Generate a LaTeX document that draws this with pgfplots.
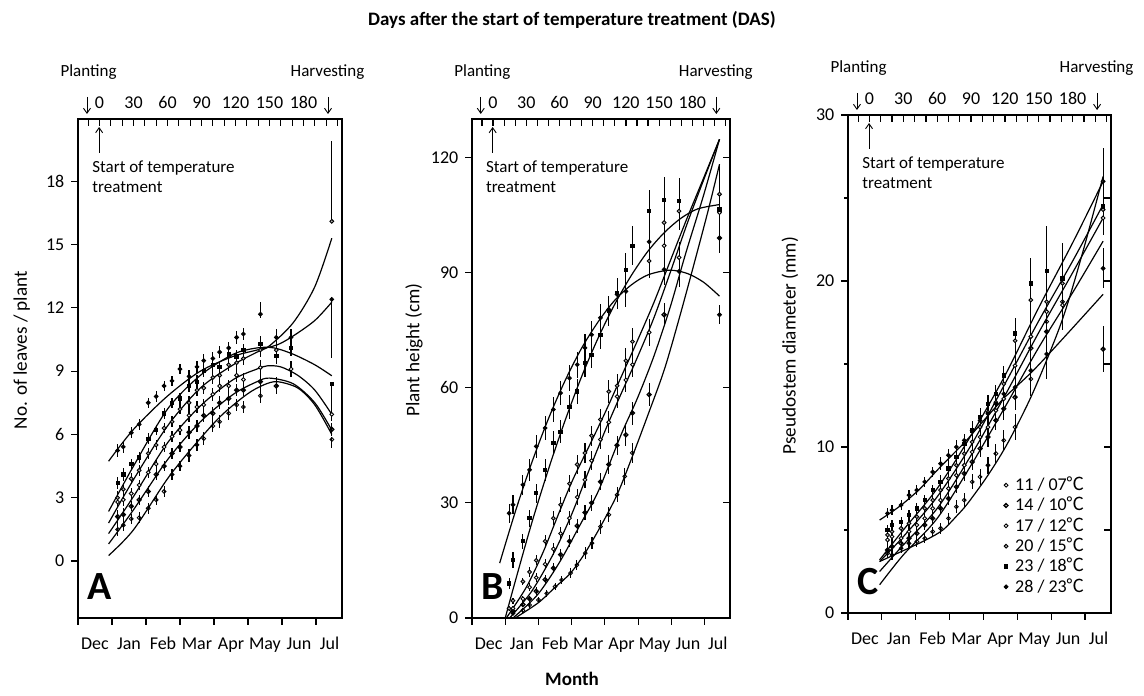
\documentclass[border=0pt]{standalone}
\usepackage{fontspec}
\setmainfont{Carlito}
\newfontfamily\cjk{Noto Sans CJK KR}
\usepackage{pgfplots}
\pgfplotsset{compat=1.18}
\usetikzlibrary{arrows.meta}

\newcommand\tfont{\fontsize{9}{10}\selectfont}
\newcommand\afont{\fontsize{8.5}{10}\selectfont}
\newcommand\lfont{\fontsize{9.6}{11}\selectfont}

\pgfplotsset{
  panel/.style={scale only axis, xmin=-19, xmax=214, clip=false,
    axis line style={line width=0.6pt},
    tick style={black, line width=0.6pt},
    tick align=outside, xtick pos=bottom, ytick pos=left,
    major tick length=3.3pt, minor tick length=1.8pt,
    xtick={-19,11,41,71,101,131,161,191}, xticklabels={},
    extra x ticks={-4,26,56,86,116,146,176,203},
    extra x tick labels={Dec,Jan,Feb,Mar,Apr,May,Jun,Jul},
    extra x tick style={major tick length=0pt,
      tick label style={yshift=-4.5pt, text height=1.6ex, text depth=0.3ex}},
    tick label style={font=\tfont},
    /pgf/number format/assume math mode=true},
  frame/.style={scale only axis, xmin=-19, xmax=214,
    axis x line*=top, axis y line*=right, tick align=inside,
    axis line style={line width=0.6pt},
    tick style={black, line width=0.6pt},
    xtick={0,30,...,180}, minor xtick={-10,0,...,210},
    major tick length=3.3pt, minor tick length=3.3pt,
    yticklabels={}, tick label style={font=\tfont},
    xticklabel style={yshift=1.5pt},
    /pgf/number format/assume math mode=true},
  cv/.style={black, line width=0.6pt, smooth, no marks, forget plot},
  dp/.style={black, only marks, mark size=0.95pt, line width=0.45pt,
    error bars/y dir=both, error bars/y explicit, error bars/error mark=none,
    error bars/error bar style={line width=0.55pt}},
  s1/.style={mark=o},
  s2/.style={mark=o, mark options={line width=0.7pt}},
  s3/.style={mark=*, mark options={fill=white}},
  s4/.style={mark=*, mark options={fill=gray!60}},
  s5/.style={mark=square*, mark size=0.85pt},
  s6/.style={mark=*},
  table/sym/.style={row sep=\\, y error index=2},
  table/asym/.style={row sep=\\, y error plus index=2, y error minus index=3},
}

% annotations common to each panel
\newcommand\panelnotes[1]{%
  \node[font=\afont] at ([yshift=23.5pt]axis description cs:0.04,1) {Planting};
  \node[font=\afont] at ([yshift=23.5pt]axis description cs:0.945,1) {Harvesting};
  \draw[-{Straight Barb[length=2.5pt,width=3.5pt]}, line width=0.45pt]
    ([yshift=11pt]axis description cs:0.034,1) -- ([yshift=2.5pt]axis description cs:0.034,1);
  \draw[-{Straight Barb[length=2.5pt,width=3.5pt]}, line width=0.45pt]
    ([yshift=11pt]axis description cs:0.947,1) -- ([yshift=2.5pt]axis description cs:0.947,1);
  \draw[-{Straight Barb[length=2.5pt,width=3.5pt]}, line width=0.45pt]
    ([yshift=-17pt]axis description cs:0.08,1) -- ([yshift=-4pt]axis description cs:0.08,1);
  \node[anchor=north west, align=left, font=\afont, inner sep=0pt]
    at ([yshift=-20.5pt]axis description cs:0.053,1) {Start of temperature\\treatment};
  \node[anchor=south west, inner sep=0pt, font=\fontsize{20}{20}\selectfont\bfseries]
    at ([yshift=9pt]axis description cs:0.035,0) {#1};
}

\begin{document}
\begin{tikzpicture}
\useasboundingbox (0,0) rectangle (572pt,347.5pt);

\node[font=\fontsize{9.5}{11}\selectfont\bfseries] at (286pt,337.5pt)
  {Days after the start of temperature treatment (DAS)};
\node[font=\fontsize{9.5}{11}\selectfont\bfseries] at (286pt,8pt) {Month};

% ---------------- A: leaves ----------------
\begin{axis}[panel, at={(39pt,38.5pt)}, anchor=south west,
  width=132pt, height=249.5pt, ymin=-2.7, ymax=20.95, ytick={0,3,...,18}]
\addplot[cv] coordinates {(8,4.73) (30,6.24) (60,7.82) (89,9.0) (118,9.7) (139,10.0) (157,10.25) (171,10.67) (190,11.4) (205,12.27)};
\addplot[cv] coordinates {(8,2.35) (30,4.5) (60,7.2) (89,8.8) (118,9.8) (139,10.1) (154,10.1) (171,9.8) (190,9.3) (205,8.78)};
\addplot[cv] coordinates {(8,1.8) (30,3.86) (60,6.4) (89,8.2) (118,9.3) (139,9.9) (150,10.2) (171,11.3) (190,13.0) (205,15.3)};
\addplot[cv] coordinates {(8,1.3) (30,3.06) (60,5.6) (89,7.35) (118,8.6) (139,9.1) (148,9.25) (160,9.2) (175,8.8) (190,8.1) (205,6.95)};
\addplot[cv] coordinates {(8,0.81) (30,2.43) (60,4.8) (89,6.6) (118,7.9) (139,8.5) (150,8.67) (171,8.4) (190,7.5) (205,6.2)};
\addplot[cv] coordinates {(8,0.26) (30,1.48) (60,3.9) (83,5.44) (107,6.87) (130,7.9) (145,8.35) (157,8.5) (175,8.2) (190,7.4) (205,6.0)};

\addplot[dp,s1] table[asym] {16 1.5 .3 .3\\ 21 1.7 .3 .3\\ 28 2.0 .25 .25\\ 35 2.05 .25 .25\\ 43 2.5 .25 .25\\ 50 2.9 .25 .25\\ 57 3.3 .25 .25\\ 64 4.1 .25 .25\\ 71 4.5 .25 .25\\ 79 5.0 .3 .3\\ 86 5.5 .3 .3\\ 92 5.8 .3 .3\\ 100 6.4 .3 .3\\ 106 6.6 .3 .3\\ 114 7.0 .3 .3\\ 121 7.4 .3 .3\\ 127 7.3 .3 .3\\ 142 7.83 .35 .35\\ 205 5.76 .1 .4\\};
\addplot[dp,s2] table[asym] {16 2.1 .3 .3\\ 21 2.2 .3 .3\\ 28 2.6 .25 .25\\ 35 2.9 .25 .25\\ 43 3.3 .25 .25\\ 50 4.1 .25 .25\\ 57 4.5 .25 .25\\ 64 5.1 .25 .25\\ 71 5.4 .25 .25\\ 79 6.1 .3 .3\\ 86 6.4 .3 .3\\ 92 6.9 .3 .3\\ 100 7.0 .3 .3\\ 106 7.5 .3 .3\\ 114 7.7 .3 .3\\ 121 8.1 .3 .3\\ 127 8.1 .3 .3\\ 142 8.5 .35 .35\\ 156 8.3 .4 .4\\ 205 6.24 .3 .3\\};
\addplot[dp,s3] table[asym] {16 2.8 .3 .3\\ 21 2.9 .3 .3\\ 28 3.2 .25 .25\\ 35 3.6 .25 .25\\ 43 4.2 .25 .25\\ 50 4.6 .25 .25\\ 57 5.4 .25 .25\\ 64 5.9 .25 .25\\ 71 6.2 .25 .25\\ 79 6.9 .3 .3\\ 86 7.3 .3 .3\\ 92 7.4 .3 .3\\ 100 7.9 .3 .3\\ 106 8.3 .3 .3\\ 114 8.3 .3 .3\\ 121 8.8 .3 .3\\ 127 8.6 .3 .3\\ 142 9.17 .35 .35\\ 169 9.1 .4 .4\\ 205 6.95 .3 .3\\};
\addplot[dp,s4] table[asym] {16 3.0 .3 .3\\ 21 3.4 .3 .3\\ 28 3.9 .25 .25\\ 35 4.3 .25 .25\\ 43 5.1 .25 .25\\ 50 5.5 .25 .25\\ 57 6.3 .25 .25\\ 64 6.6 .25 .25\\ 71 7.2 .25 .25\\ 79 7.5 .3 .3\\ 86 8.1 .3 .3\\ 92 8.2 .3 .3\\ 100 8.7 .3 .3\\ 106 8.8 .3 .3\\ 114 9.3 .3 .3\\ 121 9.4 .3 .3\\ 127 9.6 .3 .3\\ 142 10.0 .35 .35\\ 156 10.0 .4 .4\\ 205 16.1 3.8 .1\\};
\addplot[dp,s5] table[asym] {16 3.7 .3 .3\\ 21 4.1 .3 .3\\ 28 4.6 .25 .25\\ 35 4.9 .25 .25\\ 43 5.8 .25 .25\\ 50 6.2 .25 .25\\ 57 7.0 .25 .25\\ 64 7.5 .25 .25\\ 71 7.7 .25 .25\\ 79 8.3 .3 .3\\ 86 8.5 .3 .3\\ 92 9.0 .3 .3\\ 100 9.3 .3 .3\\ 106 9.2 .3 .3\\ 114 9.8 .3 .3\\ 121 9.7 .3 .3\\ 127 10.0 .3 .3\\ 142 10.3 .35 .35\\ 156 9.73 .4 .4\\ 169 10.1 .4 .4\\ 205 8.38 .1 1.3\\};
\addplot[dp,s6] table[asym] {16 5.24 .3 .3\\ 21 5.41 .3 .3\\ 28 6.08 .25 .25\\ 35 6.48 .25 .25\\ 43 7.5 .25 .25\\ 50 7.8 .25 .25\\ 57 8.3 .25 .25\\ 64 8.54 .25 .25\\ 71 9.1 .25 .25\\ 79 8.75 .3 .3\\ 86 9.2 .3 .3\\ 92 9.5 .3 .3\\ 100 9.6 .3 .3\\ 106 9.9 .3 .3\\ 114 10.1 .3 .3\\ 121 10.6 .3 .3\\ 127 10.76 .3 .3\\ 142 11.7 .6 .2\\ 156 10.6 .4 .4\\ 169 10.6 .4 .4\\ 205 12.4 .1 2.8\\};
\panelnotes{A}
\node[rotate=90, font=\lfont] at (axis description cs:-0.213,0.537) {No. of leaves / plant};
\end{axis}
\begin{axis}[frame, at={(39pt,38.5pt)}, anchor=south west,
  width=132pt, height=249.5pt, ymin=-2.7, ymax=20.95, ytick=\empty]
\end{axis}

% ---------------- B: height ----------------
\begin{axis}[panel, at={(236pt,38.5pt)}, anchor=south west,
  width=129pt, height=249.5pt, ymin=0, ymax=130, ytick={0,30,...,120}]
\addplot[cv] coordinates {(6,14.3) (20,27.6) (35,40.5) (50,51.9) (65,61.8) (80,70.3) (95,77.2) (110,82.8) (125,86.8) (140,89.4) (159,90.6) (175,89.8) (190,87.5) (204.5,83.85)};
\addplot[cv] coordinates {(11,0) (20,9.5) (35,24.8) (50,38.7) (65,51.4) (80,62.9) (95,73.0) (110,81.8) (125,89.3) (140,95.6) (155,100.5) (170,104.2) (185,106.6) (204.5,107.7)};
\addplot[cv] coordinates {(12,0) (30,8) (45,17) (59,27) (72,36) (88,45.5) (102,54) (116,63) (130,72) (145,82) (160,93) (175,104) (190,114.5) (204.5,124.7)};
\addplot[cv] coordinates {(15,0) (35,7) (55,17) (71,27) (86,38) (101.5,49) (115,58) (129,67) (145,78) (160,90) (175,102.5) (190,114) (204.5,124.7)};
\addplot[cv] coordinates {(18,0) (40,6) (60,14.5) (80,25) (95,33) (116,48) (130,57) (145,68) (160,81) (174,95) (190,110) (204.5,124.7)};
\addplot[cv] coordinates {(20,0) (41,4) (56,8) (70,11.7) (83,16.9) (97,23.8) (112,32.1) (125.7,42) (140,53) (155,65) (170,80) (185,96) (195,107) (204.5,118.2)};

\addplot[dp,s1] table[sym] {18 1.2 .5\\ 27 2.0 .6\\ 33 3.4 .7\\ 41 4.7 .8\\ 48.5 6.4 .9\\ 56 8.2 1\\ 62 9.9 1\\ 70 11.7 1.2\\ 75.7 13.8 1.3\\ 83.3 16.9 1.5\\ 89.4 19.5 1.5\\ 97 23.8 1.8\\ 104.5 26.9 2\\ 112 32.1 2\\ 119 36.9 2.2\\ 125.7 43 2.5\\};
\addplot[dp,s2] table[sym] {18 1.8 .5\\ 27 3.5 .7\\ 33 5 .8\\ 39 7 1\\ 47 10 1.2\\ 54.5 13 1.3\\ 61 16.5 1.5\\ 69 20 1.6\\ 76 24 1.8\\ 83 27.5 2\\ 89 30 2\\ 97 35.5 2.2\\ 104.5 40 2.5\\ 112 45 2.5\\ 120 47.7 2.8\\ 126 53.4 3\\ 141 58.2 3\\ 154.5 79 3\\ 204.5 99 4\\};
\addplot[dp,s3] table[sym] {18 2.5 .6\\ 27 5 .8\\ 33 8 1\\ 39 10.5 1.2\\ 47 14 1.3\\ 54.5 18 1.5\\ 61 22 1.6\\ 69 26 1.8\\ 76 31.5 2\\ 83 36 2.2\\ 89 41 2.4\\ 97 46.5 2.6\\ 104.5 51 2.8\\ 112 57.7 3\\ 120 62 3\\ 126 66 3.2\\ 141 74.4 3.5\\ 154.5 97 4\\ 168 93.9 4\\ 204.5 105.6 6\\};
\addplot[dp,s4] table[sym] {14.5 2.5 .6\\ 18 4.5 .8\\ 27 9.5 1\\ 33 12 1.2\\ 39 15 1.3\\ 47 20 1.5\\ 54.5 26 1.8\\ 61 29.5 2\\ 69 35 2.2\\ 76 40 2.4\\ 83 43 2.5\\ 89 47.5 2.6\\ 97 51.7 2.8\\ 104.5 59 3\\ 112 60.5 3\\ 120 67 3.3\\ 126 72 3.5\\ 141 93 4.5\\ 154.5 103 5\\ 168 106 5\\ 204.5 110.4 8\\};
\addplot[dp,s5] table[sym] {14.5 9 1.5\\ 18 15.1 2\\ 27 20 2\\ 33 26 2.2\\ 39 32.5 2.5\\ 47 38.6 2.8\\ 54.5 45.6 3\\ 61 48.5 3\\ 69 55 3.2\\ 76 59 3.3\\ 83 66.4 3.5\\ 89 68.6 3.5\\ 97 73.8 3.8\\ 104.5 80 4\\ 112 84.7 4\\ 120 90.7 4.5\\ 126 97 5\\ 141 106 5.5\\ 154.5 108.9 6\\ 168 108.6 6\\ 204.5 106.4 9\\};
\addplot[dp,s6] table[sym] {14.5 27.3 2.5\\ 18 29.5 2.5\\ 27 34.7 2.6\\ 33 38.6 2.8\\ 39 44.7 3\\ 47 49.5 3\\ 54.5 54.3 3.2\\ 61 58.6 3.2\\ 69 62.5 3.3\\ 76 66 3.4\\ 83 70.4 3.5\\ 89 73.8 3.5\\ 97 78.2 3.6\\ 104.5 80.4 3.6\\ 112 84.3 3.8\\ 120 85.1 4\\ 141 98 5\\ 154.5 90.8 4\\ 168 90.3 4\\ 204.5 79 2.5\\};
\panelnotes{B}
\node[rotate=90, font=\lfont] at (axis description cs:-0.225,0.537) {Plant height (cm)};
\end{axis}
\begin{axis}[frame, at={(236pt,38.5pt)}, anchor=south west,
  width=129pt, height=249.5pt, ymin=0, ymax=130, ytick={30,60,...,120}]
\end{axis}

% ---------------- C: pseudostem ----------------
\begin{axis}[panel, at={(424pt,41pt)}, anchor=south west,
  width=131.5pt, height=249pt, ymin=0, ymax=30, ytick={0,10,20,30}, minor ytick={5,15,25},
  legend style={at={(axis cs:119,8.3)}, anchor=north west, draw=none, fill=none,
    inner sep=0pt, row sep=0.6pt, nodes={inner sep=0.6pt, font=\tfont},
    /tikz/every odd column/.append style={column sep=3pt}},
  legend cell align=left,
  legend image code/.code={\draw[#1] plot coordinates {(0pt,0pt)};}]
\addplot[cv] coordinates {(9,5.6) (20,6.1) (30,6.6) (45,7.5) (60,8.6) (73,9.5) (86,10.4) (100,11.5) (120,13.0) (145,14.6) (175,16.8) (207,19.2)};
\addplot[cv] coordinates {(9,3.1) (25,3.6) (50,4.4) (65,5.0) (78,5.9) (87,6.6) (105,8.3) (123,10.3) (145,13.3) (170,17.5) (188,21.5) (207,26.3)};
\addplot[cv] coordinates {(9,3.2) (30,5.0) (60,7.5) (90,10.7) (120,14.3) (150,18.4) (180,22.3) (207,26.0)};
\addplot[cv] coordinates {(9,3.1) (30,4.6) (60,7.0) (90,10.1) (120,13.8) (150,17.6) (180,21.2) (207,24.6)};
\addplot[cv] coordinates {(9,2.5) (30,4.1) (60,6.3) (90,9.5) (120,13.1) (150,16.9) (180,20.5) (207,23.8)};
\addplot[cv] coordinates {(9,1.7) (30,3.5) (60,5.7) (90,8.9) (120,12.4) (150,16.0) (180,19.3) (207,22.4)};

\addplot[dp,s1] table[sym] {16 3.6 .3\\ 20 3.5 .3\\ 28 3.9 .3\\ 35 4.2 .3\\ 42 4.3 .3\\ 49 4.5 .3\\ 56 4.9 .3\\ 63 5.1 .35\\ 70 5.7 .35\\ 77 6.4 .4\\ 84 6.8 .4\\ 91 7.9 .45\\ 98 8.2 .5\\ 105 8.9 .5\\ 112 9.6 .6\\ 119 10.4 .6\\ 129 11.2 .8\\ 143 14.1 1\\ 157 17.55 1.3\\ 171 18.75 1.5\\ 207 26.0 2\\};
\addplot[dp,s2] table[sym] {16 3.8 .3\\ 20 4.0 .3\\ 28 4.2 .3\\ 35 4.5 .3\\ 42 4.8 .3\\ 49 5.3 .3\\ 56 5.7 .35\\ 63 6.3 .35\\ 70 6.9 .4\\ 77 7.6 .4\\ 84 8.4 .45\\ 91 9.1 .5\\ 98 9.9 .5\\ 105 10.6 .6\\ 112 11.6 .6\\ 119 12.3 .7\\ 129 13.0 .8\\ 143 15.95 1.2\\ 157 16.95 1.5\\ 207 15.9 1.4\\};
\addplot[dp,s3] table[sym] {16 4.4 .3\\ 20 4.6 .3\\ 28 4.5 .3\\ 35 4.9 .3\\ 42 5.3 .3\\ 49 5.7 .3\\ 56 6.3 .3\\ 63 6.8 .4\\ 70 7.5 .4\\ 77 8.3 .4\\ 84 8.9 .4\\ 91 9.7 .55\\ 98 10.6 .55\\ 105 11.2 .55\\ 112 12.2 .55\\ 119 12.9 .55\\ 129 14.9 .9\\ 143 16.65 1.2\\ 157 18.15 1.8\\ 171 18.55 1.5\\ 207 23.8 1\\};
\addplot[dp,s4] table[sym] {16 4.7 .3\\ 20 4.9 .3\\ 28 5.1 .3\\ 35 5.4 .3\\ 42 5.8 .3\\ 49 6.3 .3\\ 56 6.8 .3\\ 63 7.4 .4\\ 70 8.1 .4\\ 77 8.9 .4\\ 84 9.6 .4\\ 91 10.3 .55\\ 98 11.2 .55\\ 105 12.1 .55\\ 112 12.7 .55\\ 119 13.8 .55\\ 129 16.4 .9\\ 143 18.85 1.2\\ 157 18.75 1.8\\ 171 19.86 1.5\\ 207 24.3 1.5\\};
\addplot[dp,s5] table[sym] {16 5.0 .3\\ 20 5.3 .3\\ 28 5.5 .3\\ 35 5.9 .3\\ 42 6.3 .3\\ 49 6.8 .3\\ 56 7.4 .3\\ 63 7.9 .4\\ 70 8.7 .4\\ 77 9.4 .4\\ 84 10.2 .4\\ 91 11.0 .55\\ 98 11.8 .55\\ 105 12.6 .55\\ 112 13.2 .55\\ 119 14.3 .55\\ 129 16.85 .9\\ 143 19.86 1.5\\ 157 20.6 2.7\\ 171 20.16 2.1\\ 207 24.5 1.5\\};
\addplot[dp,s6] table[sym] {16 6.0 .3\\ 20 6.2 .3\\ 28 6.5 .3\\ 35 7.1 .3\\ 42 7.4 .3\\ 49 7.9 .3\\ 56 8.5 .3\\ 63 9.0 .4\\ 70 9.5 .4\\ 77 10.0 .4\\ 84 10.4 .4\\ 91 11.0 .55\\ 98 11.6 .55\\ 105 12.0 .55\\ 112 12.6 .55\\ 119 13.2 .55\\ 129 13.6 .9\\ 143 14.6 1.2\\ 157 15.6 1.5\\ 207 20.76 1.2\\};
\legend{11 / 07{\cjk ℃}, 14 / 10{\cjk ℃}, 17 / 12{\cjk ℃}, 20 / 15{\cjk ℃}, 23 / 18{\cjk ℃}, 28 / 23{\cjk ℃}}
\panelnotes{C}
\node[rotate=90, font=\lfont] at (axis description cs:-0.221,0.537) {Pseudostem diameter (mm)};
\end{axis}
\begin{axis}[frame, at={(424pt,41pt)}, anchor=south west,
  width=131.5pt, height=249pt, ymin=0, ymax=30, ytick={5,10,...,25}]
\end{axis}
\end{tikzpicture}
\end{document}
